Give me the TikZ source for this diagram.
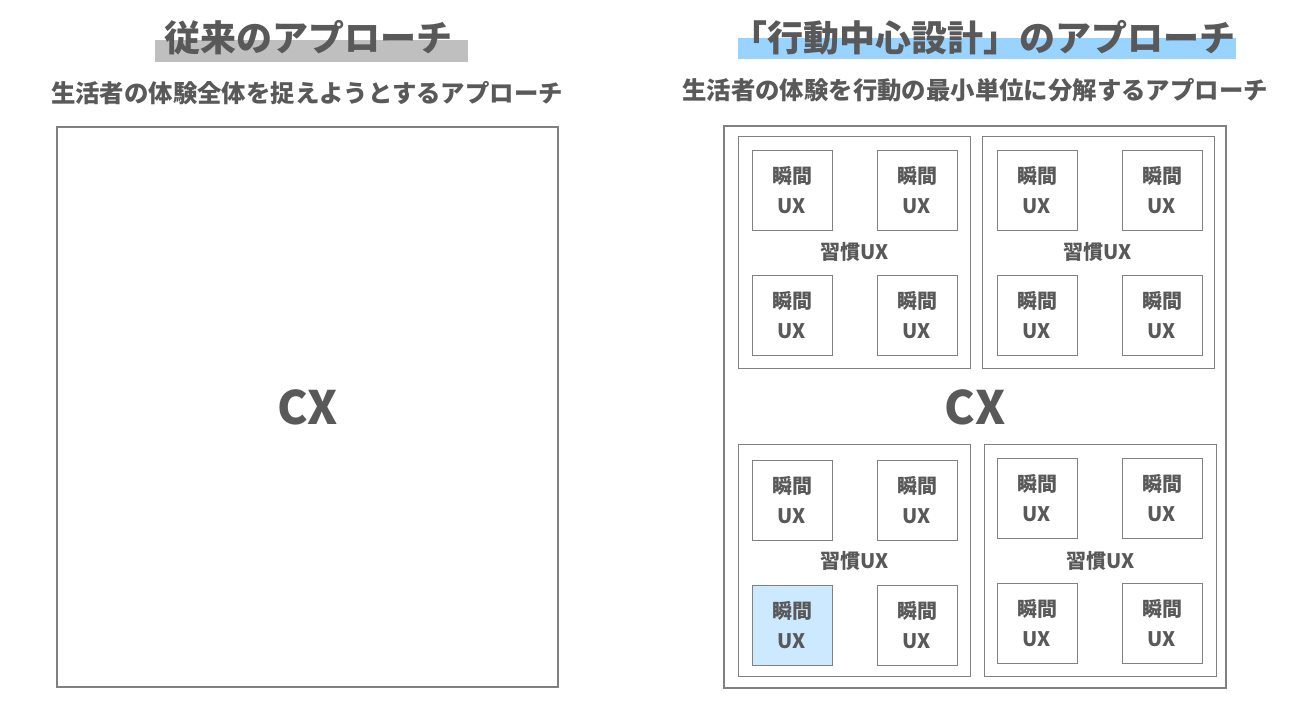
\documentclass[tikz,border=0pt]{standalone}
\usepackage{fontspec}
\setmainfont{Noto Sans CJK JP}
\usepackage{tikz}
\definecolor{txtgray}{HTML}{595959}
\definecolor{linegray}{HTML}{808080}
\definecolor{bargray}{HTML}{BFBFBF}
\definecolor{barblue}{HTML}{99D3FF}
\definecolor{cellblue}{HTML}{CCE9FF}

\begin{document}
\begin{tikzpicture}[x=1pt,y=-1pt,
	title/.style={text=txtgray,font=\bfseries\fontsize{36}{40}\selectfont,inner sep=0pt},
	subtitle/.style={text=txtgray,font=\bfseries\fontsize{24.4}{28}\selectfont,inner sep=0pt},
	frame/.style={draw=linegray,line width=1.1pt,inner sep=0pt,text=txtgray,font=\bfseries\fontsize{46}{50}\selectfont},
	group/.style={draw=linegray,line width=0.8pt,minimum width=232pt,minimum height=232pt,inner sep=0pt,text=txtgray,font=\bfseries\fontsize{20}{24}\selectfont},
	moment/.style={draw=linegray,line width=0.8pt,fill=white,minimum size=80pt,inner sep=0pt,align=center,text=txtgray,font=\bfseries\fontsize{20}{30}\selectfont},
	cell c3/.style={fill=cellblue}]
	\useasboundingbox (0,0) rectangle (1300,709);
	% left side
	\fill[color=bargray] (155,40) rectangle (468,62);
	\node[title] (oldtitle) at (308,38) {従来のアプローチ};
	\node[subtitle] (oldsub) at (307,93) {生活者の体験全体を捉えようとするアプローチ};
	\node[frame,minimum width=501pt,minimum height=560pt] (oldbox) at (307.5,407) {CX};
	% right side
	\fill[color=barblue] (738,38) rectangle (1236,59);
	\node[title] (newtitle) at (983,38) {「行動中心設計」のアプローチ};
	\node[subtitle] (newsub) at (975,90) {生活者の体験を行動の最小単位に分解するアプローチ};
	\node[frame,minimum width=502pt,minimum height=562pt] (newbox) at (975,407) {CX};
	\foreach \g/\gx/\gy/\mx/\my in {a/854.5/252/792/190, b/1098/252/1037/190, c/854.5/560.5/792/500, d/1100.5/560.5/1037/498} {
		\node[group] (g\g) at (\gx,\gy) {習慣UX};
		\foreach \i/\dx/\dy in {1/0/0, 2/125/0, 3/0/125, 4/125/125}
			\node[moment,cell \g\i/.try] (m\g\i) at (\mx+\dx,\my+\dy) {瞬間\\UX};
	}
\end{tikzpicture}
\end{document}
